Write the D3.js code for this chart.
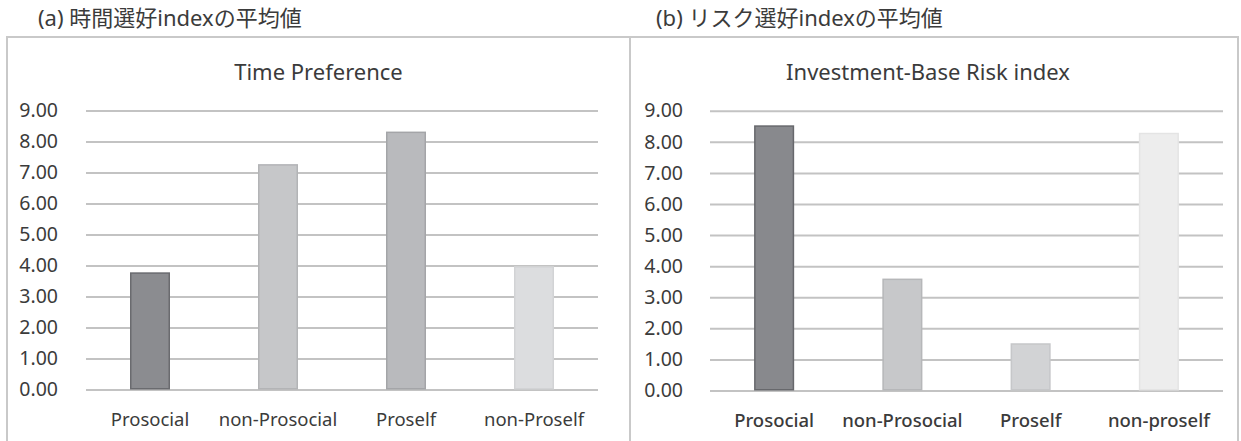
<!DOCTYPE html>
<html>
<head>
<meta charset="utf-8">
<script src="https://cdn.jsdelivr.net/npm/d3@7"></script>
<style>
  html, body { margin: 0; padding: 0; background: #ffffff; }
  svg { display: block; }
  text { font-family: "Noto Sans", "Open Sans", sans-serif; fill: #3b3b3b; }
  .cjk { font-family: "Noto Sans", "Noto Sans CJK JP", sans-serif; }
</style>
</head>
<body>
<svg id="chart" width="1241" height="441"></svg>
<script>
// Panel (a): time preference index means
const categoriesA = ["Prosocial", "non-Prosocial", "Proself", "non-Proself"];
const valuesA = [3.78, 7.27, 8.32, 3.98];

// Panel (b): investment-based risk index means
const categoriesB = ["Prosocial", "non-Prosocial", "Proself", "non-proself"];
const valuesB = [8.53, 3.60, 1.52, 8.29];

const yTickValues = [0, 1, 2, 3, 4, 5, 6, 7, 8, 9];

const svg = d3.select("#chart");

// Layout / style for each panel
const panels = [
  {
    caption: "(a) 時間選好indexの平均値", captionX: 38,
    title: "Time Preference", titleX: 318.5,
    box: [7, 37, 623, 420],
    x0: 86, x1: 598, y0: 389.5, y9: 110.5, labelX: 58,
    cats: categoriesA, vals: valuesA,
    fills: ["#8b8c90", "#c6c7c9", "#b9babd", "#dcdddf"],
    strokes: ["#6a6b6f", "#b3b4b6", "#a4a5a8", "#d2d3d5"],
    catWeight: 400
  },
  {
    caption: "(b) リスク選好indexの平均値", captionX: 656,
    title: "Investment-Base Risk index", titleX: 928,
    box: [630, 37, 608, 420],
    x0: 710, x1: 1223, y0: 390.5, y9: 110.7, labelX: 683,
    cats: categoriesB, vals: valuesB,
    fills: ["#88898d", "#c7c8ca", "#d2d3d5", "#ededed"],
    strokes: ["#67686c", "#b6b7b9", "#c6c7c9", "#e4e4e4"],
    catWeight: 500
  }
];

panels.forEach(p => {
  const g = svg.append("g");

  // caption above the frame
  g.append("text")
    .attr("class", "cjk")
    .attr("x", p.captionX).attr("y", 26)
    .attr("font-size", 22)
    .text(p.caption);

  // chart frame
  g.append("rect")
    .attr("x", p.box[0]).attr("y", p.box[1])
    .attr("width", p.box[2]).attr("height", p.box[3])
    .attr("fill", "none")
    .attr("stroke", "#c9c9c9")
    .attr("stroke-width", 2);

  // chart title
  g.append("text")
    .attr("x", p.titleX).attr("y", 80)
    .attr("text-anchor", "middle")
    .attr("font-size", 22)
    .text(p.title);

  const x = d3.scaleBand()
    .domain(p.cats)
    .range([p.x0, p.x1])
    .paddingInner(0.6875)
    .paddingOuter(0.34375);

  const y = d3.scaleLinear()
    .domain([0, 9])
    .range([p.y0, p.y9]);

  // horizontal gridlines + value labels
  const yAxis = d3.axisLeft(y)
    .tickValues(yTickValues)
    .tickFormat(d3.format(".2f"))
    .tickSize(-(p.x1 - p.x0))
    .tickPadding(p.x0 - p.labelX);

  const ya = g.append("g")
    .attr("transform", `translate(${p.x0},0)`)
    .call(yAxis);
  ya.select(".domain").remove();
  ya.selectAll(".tick line")
    .attr("stroke", "#c3c3c3")
    .attr("stroke-width", 2);
  ya.selectAll(".tick text")
    .attr("font-size", 19.5)
    .attr("font-family", "Noto Sans, sans-serif")
    .attr("fill", "#3b3b3b");

  // bars
  g.append("g").selectAll("rect")
    .data(p.vals)
    .join("rect")
    .attr("x", (d, i) => x(p.cats[i]) + 0.75)
    .attr("y", d => y(d) + 0.75)
    .attr("width", x.bandwidth() - 1.5)
    .attr("height", d => y(0) - y(d) - 1.5)
    .attr("fill", (d, i) => p.fills[i])
    .attr("stroke", (d, i) => p.strokes[i])
    .attr("stroke-width", 1.5);

  // category labels
  const xAxis = d3.axisBottom(x).tickSize(0).tickPadding(0);
  const xa = g.append("g")
    .attr("transform", `translate(0,${p.y0})`)
    .call(xAxis);
  xa.select(".domain").remove();
  xa.selectAll(".tick text")
    .attr("font-size", 18.5)
    .attr("font-family", "Noto Sans, sans-serif")
    .attr("font-weight", p.catWeight)
    .attr("fill", "#3b3b3b")
    .attr("dy", null)
    .attr("y", 36);
});
</script>
</body>
</html>
